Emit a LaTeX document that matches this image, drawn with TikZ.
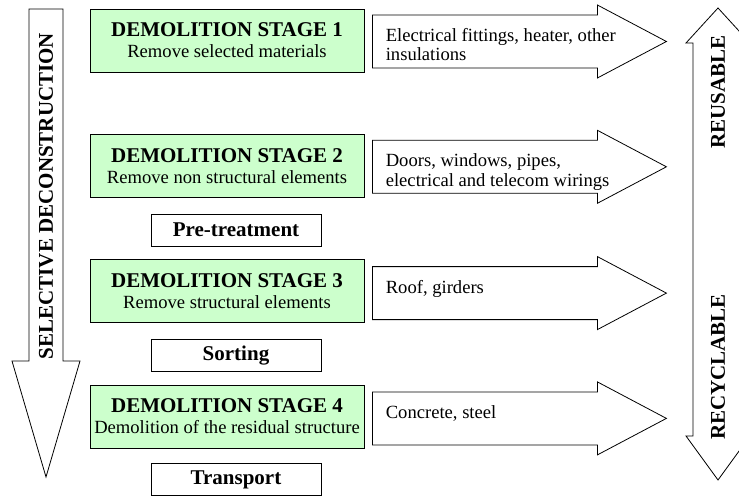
\documentclass[tikz,border=0pt]{standalone}
\usepackage{fontspec}
\setmainfont{Liberation Serif}
\usetikzlibrary{positioning}
\definecolor{stagegreen}{RGB}{204,255,204}
\tikzset{
  stage/.style  = {draw, fill=stagegreen, minimum width=274pt, minimum height=63pt,
                   inner sep=0pt, align=center, font=\fontsize{18.6}{21}\selectfont},
  task/.style   = {draw, fill=white, minimum width=170pt, minimum height=32pt,
                   inner sep=0pt, font=\fontsize{21}{24}\selectfont\bfseries},
  fat arrow/.style = {draw, fill=white, line join=miter},
  items/.style  = {anchor=north west, align=left, inner sep=0pt,
                   font=\fontsize{18.6}{19.5}\selectfont},
  side label/.style = {rotate=90, inner sep=0pt, font=\fontsize{21}{24}\selectfont\bfseries}
}
\newcommand{\stagetitle}[1]{{\fontsize{21}{21}\selectfont\bfseries #1}}

\begin{document}
\begin{tikzpicture}[x=1pt, y=-1pt, line width=0.8pt]
\clip (0,0) rectangle (739,497);

% selective deconstruction arrow
\draw[fat arrow] (29,9) -- (63,9) -- (63,361) -- (80,361) -- (46,477) -- (12,361) -- (29,361) -- cycle;
\node[side label] (selective) at (46,196) {SELECTIVE DECONSTRUCTION};

% stages
\node[stage] (stage1) at (227,40.5) {\stagetitle{DEMOLITION STAGE 1}\\Remove selected materials};
\node[stage, below=61.5pt of stage1] (stage2) {\stagetitle{DEMOLITION STAGE 2}\\Remove non structural elements};
\node[task, below=16pt of stage2, xshift=9pt] (pretreat) {Pre-treatment};
\node[stage, below=61.5pt of stage2] (stage3) {\stagetitle{DEMOLITION STAGE 3}\\Remove structural elements};
\node[task, below=16pt of stage3, xshift=9pt] (sorting) {Sorting};
\node[stage, below=61.5pt of stage3] (stage4) {\stagetitle{DEMOLITION STAGE 4}\\Demolition of the residual structure};
\node[task, below=15pt of stage4, xshift=9pt] (transport) {Transport};

% output arrows
\coordinate (out1) at ([xshift=8pt, yshift=25.5pt]stage1.east);
\coordinate (out2) at ([xshift=8pt, yshift=25.5pt]stage2.east);
\coordinate (out3) at ([xshift=8pt, yshift=24.5pt]stage3.east);
\coordinate (out4) at ([xshift=8pt, yshift=24.5pt]stage4.east);
\draw[fat arrow] (out1) -- ++(225,0) -- ++(0,-10) -- ++(69,36.5) -- ++(-69,36.5) -- ++(0,-10) -- ++(-225,0) -- cycle;
\draw[fat arrow] (out2) -- ++(225,0) -- ++(0,-10) -- ++(69,36.5) -- ++(-69,36.5) -- ++(0,-10) -- ++(-225,0) -- cycle;
\draw[fat arrow] (out3) -- ++(225,0) -- ++(0,-10) -- ++(69,36.5) -- ++(-69,36.5) -- ++(0,-10) -- ++(-225,0) -- cycle;
\draw[fat arrow] (out4) -- ++(225,0) -- ++(0,-10) -- ++(69,36.5) -- ++(-69,36.5) -- ++(0,-10) -- ++(-225,0) -- cycle;
\node[items] (items1) at ([xshift=13pt, yshift=-13pt]out1) {Electrical fittings, heater, other\\insulations};
\node[items] (items2) at ([xshift=13pt, yshift=-13pt]out2) {Doors, windows, pipes,\\electrical and telecom wirings};
\node[items] (items3) at ([xshift=13pt, yshift=-13pt]out3) {Roof, girders};
\node[items] (items4) at ([xshift=13pt, yshift=-13pt]out4) {Concrete, steel};

% reusable / recyclable
\draw[fat arrow] (693,43) -- (686,43) -- (718,8) -- (750,43) -- (743,43) -- (743,436)
  -- (750,436) -- (718,480) -- (686,436) -- (693,436) -- cycle;
\node[side label] (reusable) at (718,92) {REUSABLE};
\node[side label] (recyclable) at (718,367) {RECYCLABLE};
\end{tikzpicture}
\end{document}
